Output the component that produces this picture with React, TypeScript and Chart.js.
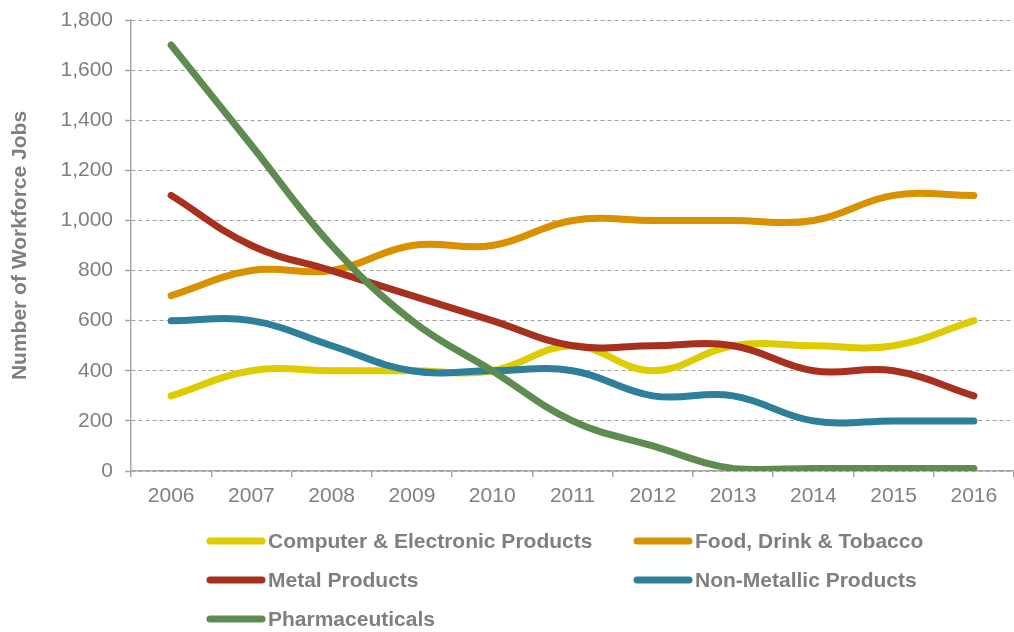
import React, { useEffect, useRef } from "react";
import { Chart, registerables } from "chart.js";

Chart.register(...registerables);

const years = ["2006", "2007", "2008", "2009", "2010", "2011", "2012", "2013", "2014", "2015", "2016"];
const computerElectronic = [300, 400, 400, 400, 400, 500, 400, 500, 500, 500, 600];
const foodDrinkTobacco = [700, 800, 800, 900, 900, 1000, 1000, 1000, 1000, 1100, 1100];
const metalProducts = [1100, 900, 800, 700, 600, 500, 500, 500, 400, 400, 300];
const nonMetallic = [600, 600, 500, 400, 400, 400, 300, 300, 200, 200, 200];
const pharmaceuticals = [1700, 1300, 900, 600, 400, 200, 100, 10, 10, 10, 10];

const seriesNames = [
  "Computer & Electronic Products",
  "Food, Drink & Tobacco",
  "Metal Products",
  "Non-Metallic Products",
  "Pharmaceuticals",
];
const seriesColors = ["#DECB00", "#D99100", "#A8301E", "#2E7F99", "#5E8C50"];
const seriesValues = [computerElectronic, foodDrinkTobacco, metalProducts, nonMetallic, pharmaceuticals];

const FONT = "'Liberation Sans', Arial, Helvetica, sans-serif";
const GREY = "#7f7f7f";

const legendPlugin = {
  id: "customLegend",
  afterDraw(chart: any) {
    const { ctx, chartArea } = chart;
    const colX = [chartArea.left + 76, chartArea.left + 503];
    const rowY = [541, 580, 619];
    ctx.save();
    ctx.font = `bold 21px ${FONT}`;
    ctx.textBaseline = "middle";
    ctx.textAlign = "left";
    chart.data.datasets.forEach((ds: any, i: number) => {
      const x = colX[i % 2];
      const y = rowY[Math.floor(i / 2)];
      ctx.strokeStyle = ds.borderColor;
      ctx.lineWidth = 7;
      ctx.lineCap = "round";
      ctx.beginPath();
      ctx.moveTo(x + 3, y);
      ctx.lineTo(x + 55, y);
      ctx.stroke();
      ctx.fillStyle = GREY;
      ctx.fillText(ds.label, x + 61, y + 1);
    });
    ctx.restore();
  },
};

export default function App() {
  const canvasRef = useRef<HTMLCanvasElement | null>(null);

  useEffect(() => {
    document.body.style.margin = "0";
    document.body.style.overflow = "hidden";
    const canvas = canvasRef.current;
    if (!canvas) return;
    const chart = new Chart(canvas, {
      type: "line",
      data: {
        labels: years,
        datasets: seriesValues.map((vals, i) => ({
          label: seriesNames[i],
          data: vals,
          borderColor: seriesColors[i],
          backgroundColor: seriesColors[i],
          borderWidth: 7,
          borderCapStyle: "round" as const,
          borderJoinStyle: "round" as const,
          pointRadius: 0,
          pointHoverRadius: 0,
          tension: 0.4,
          fill: false,
          order: seriesValues.length - i,
        })),
      },
      options: {
        animation: false,
        responsive: false,
        maintainAspectRatio: false,
        layout: { padding: { top: 20, right: 0, bottom: 121, left: 0 } },
        plugins: {
          legend: { display: false },
          tooltip: { enabled: false },
        },
        scales: {
          x: {
            type: "category",
            offset: true,
            grid: {
              display: true,
              drawOnChartArea: false,
              drawTicks: true,
              tickLength: 6,
              color: "#a6a6a6",
              lineWidth: 1.5,
              offset: true,
            },
            border: { display: true, color: "#a6a6a6", width: 1.5 },
            ticks: {
              color: GREY,
              font: { family: FONT, size: 21 },
              padding: 7,
              maxRotation: 0,
              autoSkip: false,
            },
            afterFit: (scale: any) => {
              scale.height = 40;
              scale.paddingLeft = 0;
              scale.paddingRight = 0;
            },
          },
          y: {
            min: 0,
            max: 1800,
            ticks: {
              stepSize: 200,
              color: GREY,
              font: { family: FONT, size: 21 },
              padding: 12,
              callback: (v: any) => Number(v).toLocaleString("en-US"),
            },
            grid: {
              color: "#a0a0a0",
              lineWidth: 1,
              tickLength: 6,
              tickColor: "#a6a6a6",
              tickWidth: 1.5,
              tickBorderDash: [],
            } as any,
            border: { display: true, color: "#a6a6a6", width: 1.5, dash: [4, 3] },
            title: {
              display: true,
              text: "Number of Workforce Jobs",
              color: GREY,
              font: { family: FONT, size: 21, weight: "bold" },
              padding: { top: 8, bottom: 0 },
            },
            afterFit: (scale: any) => {
              scale.width = 131;
              scale.paddingTop = 0;
              scale.paddingBottom = 0;
            },
          },
        },
      },
      plugins: [legendPlugin],
    });
    return () => chart.destroy();
  }, []);

  return (
    <div style={{ width: 1014, height: 632, position: "relative", background: "#fff" }}>
      <canvas ref={canvasRef} width={1014} height={632} style={{ display: "block" }} />
    </div>
  );
}
